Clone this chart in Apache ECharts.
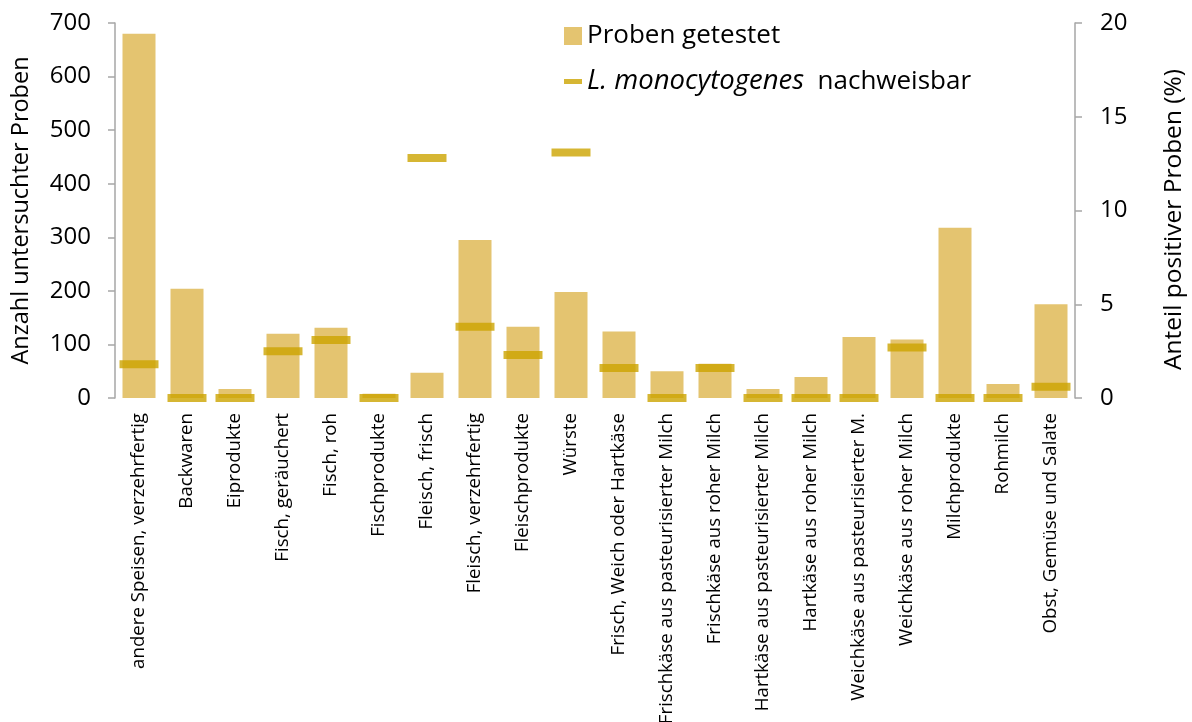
<!DOCTYPE html>
<html>
<head>
<meta charset="utf-8">
<script src="https://cdn.jsdelivr.net/npm/echarts@6/dist/echarts.min.js"></script>
<style>
  html, body { margin: 0; padding: 0; background: #fff; }
  #chart { width: 1192px; height: 722px; }
</style>
</head>
<body>
<div id="chart"></div>
<script>
const categories = [
  "andere Speisen, verzehrfertig", "Backwaren", "Eiprodukte", "Fisch, geräuchert",
  "Fisch, roh", "Fischprodukte", "Fleisch, frisch", "Fleisch, verzehrfertig",
  "Fleischprodukte", "Würste", "Frisch, Weich oder Hartkäse",
  "Frischkäse aus pasteurisierter Milch", "Frischkäse aus roher Milch",
  "Hartkäse aus pasteurisierter Milch", "Hartkäse aus roher Milch",
  "Weichkäse aus pasteurisierter M.", "Weichkäse aus roher Milch",
  "Milchprodukte", "Rohmilch", "Obst, Gemüse und Salate"
];
// Anzahl untersuchter Proben
const tested = [680, 204, 17, 120, 131, 8, 47, 295, 133, 198, 124, 50, 64, 17, 39, 114, 109, 318, 26, 175];
// Anteil positiver Proben (%)
const positive = [1.8, 0, 0, 2.5, 3.1, 0, 12.8, 3.8, 2.3, 13.1, 1.6, 0, 1.6, 0, 0, 0, 2.7, 0, 0, 0.6];
const leftTicks = [0, 700, 100];
const rightTicks = [0, 20, 5];

const barColor = "#E4C470";
const markColor = "#CCA400";
const font = "Open Sans";

const chart = echarts.init(document.getElementById("chart"));
chart.setOption({
  animation: false,
  textStyle: { fontFamily: font, color: "#000" },
  grid: { left: 115, right: 117, top: 23, bottom: 324, containLabel: false, outerBoundsMode: "none" },
  legend: [
    {
      data: [{ name: "Proben getestet", icon: "rect" }],
      left: 559, top: 18,
      itemWidth: 18, itemHeight: 18, itemGap: 12,
      textStyle: { fontFamily: font, fontSize: 26, color: "#000" }
    },
    {
      data: [{ name: "L. monocytogenes nachweisbar", icon: "rect" }],
      left: 559, top: 63,
      itemWidth: 18, itemHeight: 5,
      formatter: () => "{i|L. monocytogenes}  nachweisbar",
      textStyle: {
        fontFamily: font, fontSize: 26, color: "#000",
        rich: { i: { fontStyle: "italic", fontFamily: font, fontSize: 27.5, color: "#000" } }
      }
    }
  ],
  xAxis: {
    type: "category",
    data: categories,
    axisLine: { show: false },
    axisTick: { show: false },
    axisLabel: {
      interval: 0, rotate: 90, margin: 15,
      fontFamily: font, fontSize: 18.7, color: "#000"
    }
  },
  yAxis: [
    {
      type: "value",
      min: leftTicks[0], max: leftTicks[1], interval: leftTicks[2],
      name: "Anzahl untersuchter Proben",
      nameLocation: "middle", nameGap: 82,
      nameTextStyle: { fontFamily: font, fontSize: 23.5, color: "#000" },
      axisLine: { show: true, lineStyle: { color: "#A6A6A6", width: 1.5 } },
      axisTick: { show: true, length: 7, lineStyle: { color: "#A6A6A6", width: 1.5 } },
      axisLabel: { fontFamily: font, fontSize: 24, color: "#000", margin: 24 },
      splitLine: { show: false }
    },
    {
      type: "value",
      min: rightTicks[0], max: rightTicks[1], interval: rightTicks[2],
      name: "Anteil positiver Proben (%)",
      nameLocation: "middle", nameGap: 87,
      nameRotate: 90,
      nameTextStyle: { fontFamily: font, fontSize: 24.5, color: "#000", padding: [0, 18, 0, 0] },
      axisLine: { show: true, lineStyle: { color: "#A6A6A6", width: 1.5 } },
      axisTick: { show: true, length: 7, lineStyle: { color: "#A6A6A6", width: 1.5 } },
      axisLabel: { fontFamily: font, fontSize: 24, color: "#000", margin: 25 },
      splitLine: { show: false }
    }
  ],
  series: [
    {
      name: "Proben getestet",
      type: "bar",
      data: tested,
      barWidth: 33,
      itemStyle: { color: barColor }
    },
    {
      name: "L. monocytogenes nachweisbar",
      type: "scatter",
      yAxisIndex: 1,
      data: positive,
      symbol: "rect",
      symbolSize: [39, 8],
      clip: false,
      itemStyle: { color: markColor }
    }
  ]
});
</script>
</body>
</html>
